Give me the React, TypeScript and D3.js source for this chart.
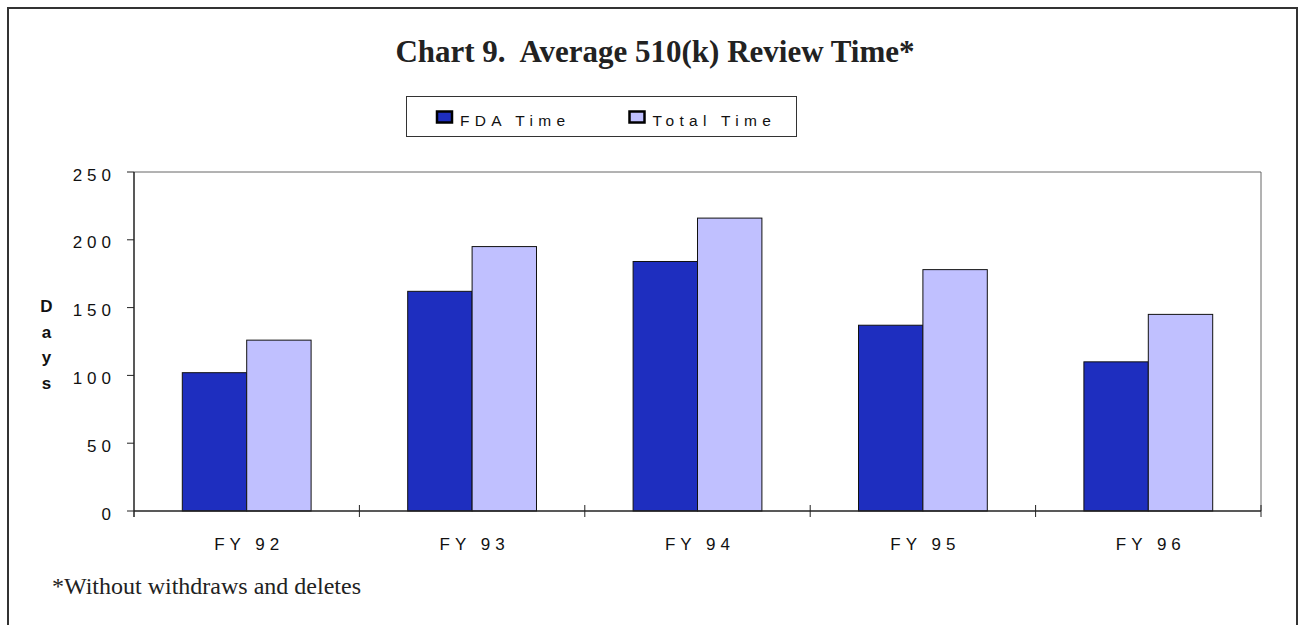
import React from "react";
import * as d3 from "d3";

const categories = ["FY 92", "FY 93", "FY 94", "FY 95", "FY 96"];
const seriesNames = ["FDA Time", "Total Time"];
const fdaTime = [102, 162, 184, 137, 110];
const totalTime = [126, 195, 216, 178, 145];
const yTicks = [0, 50, 100, 150, 200, 250];
const colors = ["#1E2EBF", "#C0C0FF"];

export default function App() {
  const W = 1299;
  const H = 625;
  const left = 134;
  const right = 1261;
  const top = 172;
  const bottom = 511;

  const x = d3.scaleBand<string>().domain(categories).range([left, right]).paddingInner(0).paddingOuter(0);
  const x1 = d3.scaleBand<string>().domain(seriesNames).range([0, x.bandwidth()]).paddingInner(0).paddingOuter(0.75);
  const y = d3.scaleLinear().domain([0, 250]).range([bottom, top]);
  const data = [fdaTime, totalTime];

  const axisFont = "Arial, 'Liberation Sans', sans-serif";
  const serif = "'Times New Roman', 'Liberation Serif', serif";

  return (
    <svg width={W} height={H} style={{ position: "absolute", left: 0, top: 0, display: "block", background: "#fff" }}>
      <rect x={8} y={8} width={1289} height={700} fill="#fff" stroke="#333" strokeWidth={2} />
      <text x={655} y={62} textAnchor="middle" fontFamily={serif} fontWeight="bold" fontSize={31} fill="#222" style={{ whiteSpace: "pre" }}>
        {"Chart 9.  Average 510(k) Review Time*"}
      </text>
      {/* legend */}
      <rect x={406.5} y={96.5} width={390} height={40} fill="#fff" stroke="#333" strokeWidth={1} />
      {seriesNames.map((s, i) => {
        const sx = i === 0 ? 437 : 629.5;
        return (
          <g key={s}>
            <rect x={sx} y={111.5} width={15} height={11} fill={colors[i]} stroke="#000" strokeWidth={2.5} />
            <text x={sx + 23} y={125.5} fontFamily={axisFont} fontSize={15.5} letterSpacing={5.3} fill="#111">
              {s}
            </text>
          </g>
        );
      })}
      {/* plot frame */}
      <line x1={left} x2={right} y1={top} y2={top} stroke="#666" strokeWidth={1} />
      <line x1={right} x2={right} y1={top} y2={bottom} stroke="#666" strokeWidth={1} />
      {/* bars */}
      {categories.map((c, ci) =>
        seriesNames.map((s, si) => {
          const v = data[si][ci];
          return (
            <rect
              key={c + s}
              x={(x(c) as number) + (x1(s) as number)}
              y={y(v)}
              width={x1.bandwidth()}
              height={bottom - y(v)}
              fill={colors[si]}
              stroke="#111"
              strokeWidth={1}
            />
          );
        })
      )}
      {/* y axis */}
      <line x1={left} x2={left} y1={top} y2={bottom + 6} stroke="#222" strokeWidth={1.5} />
      {yTicks.map((t) => (
        <g key={t}>
          <line x1={left - 7} x2={left} y1={y(t)} y2={y(t)} stroke="#222" strokeWidth={1} />
          <text x={116} y={y(t) + 8.5} textAnchor="end" fontFamily={axisFont} fontSize={17} letterSpacing={5} fill="#111">
            {t}
          </text>
        </g>
      ))}
      {/* x axis */}
      <line x1={left} x2={right} y1={bottom} y2={bottom} stroke="#222" strokeWidth={1.5} />
      {categories.map((c) => (
        <line key={"t" + c} x1={(x(c) as number) + x.bandwidth()} x2={(x(c) as number) + x.bandwidth()} y1={bottom - 6} y2={bottom + 6} stroke="#222" strokeWidth={1} />
      ))}
      {categories.map((c) => (
        <text key={"l" + c} x={(x(c) as number) + x.bandwidth() / 2 + 2.5} y={550} textAnchor="middle" fontFamily={axisFont} fontSize={17} letterSpacing={5} fill="#111" style={{ whiteSpace: "pre" }}>
          {c}
        </text>
      ))}
      {/* y title */}
      {"Days".split("").map((ch, i) => (
        <text key={"d" + i} x={46.5} y={312 + i * 25.5} textAnchor="middle" fontFamily={axisFont} fontWeight="bold" fontSize={17} fill="#111">
          {ch}
        </text>
      ))}
      <text x={52} y={594} fontFamily={serif} fontSize={24} fill="#222">
        *Without withdraws and deletes
      </text>
    </svg>
  );
}
